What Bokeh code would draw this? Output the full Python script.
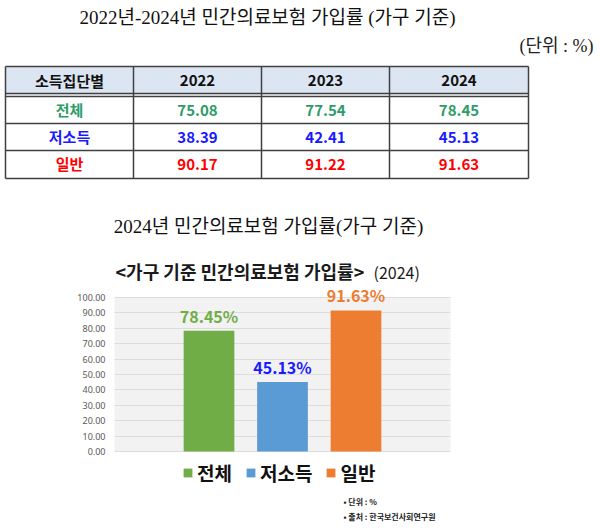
from bokeh.plotting import figure
from bokeh.models import (ColumnDataSource, Range1d, FactorRange, FixedTicker,
                          NumeralTickFormatter, BoxAnnotation)
from bokeh.core.properties import value
from bokeh.embed import file_html
from bokeh.resources import INLINE

# 소득집단별 민간의료보험 가입률 (%)
groups = ["전체", "저소득", "일반"]
years = ["2022", "2023", "2024"]
rate_all = [75.08, 77.54, 78.45]
rate_low = [38.39, 42.41, 45.13]
rate_general = [90.17, 91.22, 91.63]
y_ticks = [0, 10, 20, 30, 40, 50, 60, 70, 80, 90, 100]

title_top = "2022년-2024년 민간의료보험 가입률 (가구 기준)"
unit_note = "(단위 : %)"
table_head = "소득집단별"
title_mid = "2024년 민간의료보험 가입률(가구 기준)"
chart_title = "<가구 기준 민간의료보험 가입률>"
chart_year = "(2024)"
notes = ["• 단위 : %", "• 출처 : 한국보건사회연구원"]

KR = "Noto Sans CJK KR"
SERIF = "Liberation Serif, Noto Sans CJK KR"
table_colors = ["#2e9b68", "#1a1aff", "#ff0000"]
bar_colors = ["#70ad47", "#5b9bd5", "#ed7d31"]
label_colors = ["#70ad47", "#1a1aff", "#ed7d31"]

# ---- top part: headings + table (page pixel coordinates, y downwards) ----
TOP_H = 282
top = figure(width=600, height=TOP_H, x_range=Range1d(0, 600), y_range=Range1d(TOP_H, 0),
             x_axis_type=None, y_axis_type=None, toolbar_location=None,
             output_backend="svg", min_border=0, outline_line_color=None)

top.text(x=[267], y=[17], text=[title_top], text_font=value(SERIF), text_font_size="19px",
         text_color="#111111", text_align="center", text_baseline="middle")
top.text(x=[593], y=[45], text=[unit_note], text_font=value(SERIF), text_font_size="18px",
         text_color="#222222", text_align="right", text_baseline="middle")

col_x = [5, 133, 261, 389, 528]
row_y = [96, 123, 150, 178]
head_top, head_bot = 66, 94
cx = [(a + b) / 2 for a, b in zip(col_x[:-1], col_x[1:])]
cy = [(a + b) / 2 for a, b in zip(row_y[:-1], row_y[1:])]

top.quad(left=[col_x[0]], right=[col_x[-1]], top=[head_top], bottom=[head_bot],
         fill_color="#dce6f2", line_color=None)

hy = [head_top, 93, 96] + row_y[1:]
top.segment(x0=[col_x[0]] * len(hy), x1=[col_x[-1]] * len(hy), y0=hy, y1=hy,
            line_color="#404040", line_width=1.5)
top.segment(x0=col_x, x1=col_x, y0=[head_top] * len(col_x), y1=[row_y[-1]] * len(col_x),
            line_color="#404040", line_width=1.5)

top.text(x=cx, y=[(head_top + head_bot) / 2] * 4, text=[table_head] + years,
         text_font=value(KR), text_font_style="bold", text_font_size="15px",
         text_color="#111111", text_align="center", text_baseline="middle")

rows = [rate_all, rate_low, rate_general]
tx, ty, tt, tc = [], [], [], []
for i, g in enumerate(groups):
    tx.append(cx[0]); ty.append(cy[i] - 1); tt.append(g); tc.append(table_colors[i])
    for j, v in enumerate(rows[i]):
        tx.append(cx[j + 1]); ty.append(cy[i]); tt.append(f"{v:.2f}"); tc.append(table_colors[i])
top.text(x=tx, y=ty, text=tt, text_color=tc, text_font=value(KR), text_font_style="bold",
         text_font_size="15px", text_align="center", text_baseline="middle")

top.text(x=[268], y=[226], text=[title_mid], text_font=value(SERIF), text_font_size="19px",
         text_color="#111111", text_align="center", text_baseline="middle")
top.text(x=[115], y=[270], text=[chart_title], text_font=value(KR), text_font_style="bold",
         text_font_size="18px", text_color="#1a1a1a", text_align="left", text_baseline="middle")
top.text(x=[373], y=[271], text=[chart_year], text_font=value(KR), text_font_size="16px",
         text_color="#1a1a1a", text_align="left", text_baseline="middle")

# ---- bar chart (2024) ----
rate_2024 = [r[-1] for r in rows]
src = ColumnDataSource(dict(group=groups, rate=rate_2024, color=bar_colors,
                            label=[f"{v:.2f}%" for v in rate_2024], label_color=label_colors))

p = figure(width=600, height=528 - TOP_H,
           x_range=FactorRange(factors=groups, range_padding=0.786, range_padding_units="absolute"),
           y_range=Range1d(-50, 109.74), x_axis_location=None, toolbar_location=None,
           output_backend="svg", min_border_left=114, min_border_right=150,
           min_border_top=0, min_border_bottom=0, outline_line_color=None)

p.add_layout(BoxAnnotation(bottom=0, top=100, fill_color="#f2f2f2", fill_alpha=1,
                           line_color="#e2e2e2", line_width=1, level="image"))

p.vbar(x="group", top="rate", width=0.69, fill_color="color", line_color=None,
       legend_field="group", source=src)
p.text(x="group", y="rate", text="label", text_color="label_color", source=src,
       text_font=value(KR), text_font_style="bold", text_font_size="16px",
       text_align="center", text_baseline="middle", y_offset=-15)

p.text(x=["일반", "일반"], y=[-32.5, -42.2], text=notes, x_offset=-12.5,
       text_font=value(KR), text_font_style="bold", text_font_size="8px",
       text_color="#222222", text_align="left", text_baseline="middle")

p.xgrid.grid_line_color = None
p.yaxis.ticker = FixedTicker(ticks=y_ticks)
p.yaxis.formatter = NumeralTickFormatter(format="0.00")
p.yaxis.axis_line_color = None
p.yaxis.major_tick_line_color = None
p.yaxis.major_tick_out = 0
p.yaxis.minor_tick_line_color = None
p.yaxis.major_label_text_font = "Noto Sans"
p.yaxis.major_label_text_font_size = "9px"
p.yaxis.major_label_text_color = "#595959"
p.yaxis.major_label_standoff = 9
p.ygrid.grid_line_color = "#dcdcdc"

lg = p.legend[0]
lg.location = (68, 42)
lg.orientation = "horizontal"
lg.background_fill_alpha = 0
lg.border_line_color = None
lg.padding = 0
lg.margin = 0
lg.spacing = 13
lg.label_standoff = 4
lg.glyph_width = 11
lg.glyph_height = 11
lg.label_height = 20
lg.label_text_font = KR
lg.label_text_font_style = "bold"
lg.label_text_font_size = "19px"
lg.label_text_color = "#111111"

# two separate roots, stacked, so the frames are not aligned to each other
open("out.html", "w").write(file_html([top, p], INLINE))
